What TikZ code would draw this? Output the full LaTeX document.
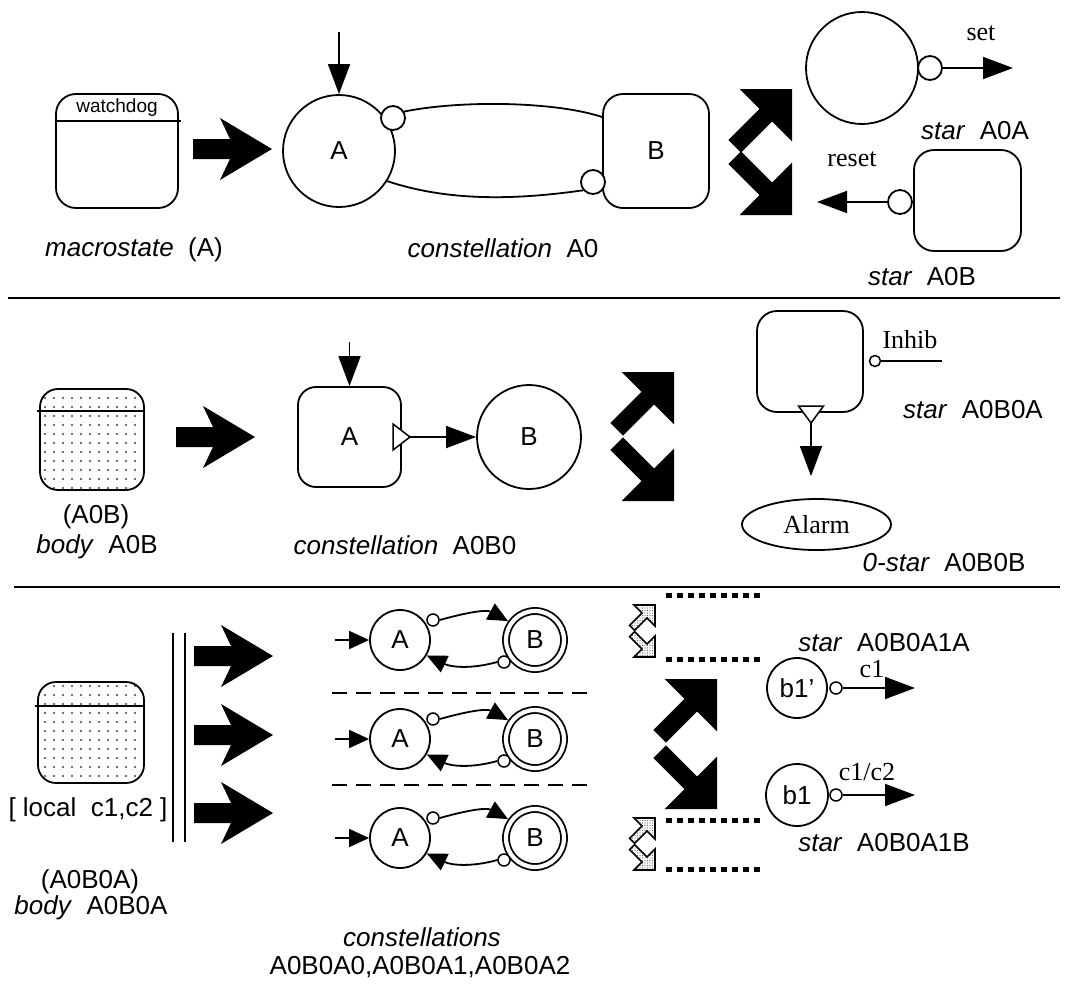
\documentclass[tikz,border=0pt]{standalone}
\usepackage{fontspec}
\setmainfont{Liberation Serif}
\setsansfont{Liberation Sans}
\usetikzlibrary{positioning, arrows.meta, shapes.geometric, patterns.meta}

\tikzset{
  fatarrow/.pic={\fill (0,0) -- (-52,-31) -- (-42,-10) -- (-79,-10) -- (-79,10) -- (-42,10) -- (-52,31) -- cycle;},
  fatturn/.pic={\fill (0,0) -- (-37,-37) -- (-37,-9) -- (-81,-9) -- (-81,9) -- (-37,9) -- (-37,37) -- cycle;},
  hatchturn/.pic={\path[hatch] (0,0) -- (-37,-37) -- (-37,-9) -- (-81,-9) -- (-81,9) -- (-37,9) -- (-37,37) -- cycle;}
}

\begin{document}
\begin{tikzpicture}[x=1pt, y=-1pt, line width=1.8pt,
    lbl/.style={font=\sffamily\fontsize{26}{30}\selectfont},
    rmlbl/.style={font=\rmfamily\fontsize{26}{30}\selectfont},
    state/.style={circle, draw, inner sep=0pt, lbl},
    box/.style={rectangle, rounded corners=20pt, draw, inner sep=0pt, lbl},
    body/.style={box, rounded corners=18pt, pattern={Dots[distance=9pt, radius=1.1pt]}, pattern color=black!75},
    port/.style={circle, draw, fill=white, inner sep=0pt, minimum size=24pt},
    sport/.style={port, minimum size=12pt, line width=1.5pt},
    line/.style={draw, -{Triangle[length=30pt, width=22pt]}},
    sline/.style={draw, -{Triangle[length=20pt, width=18pt]}},
    tri/.style={draw, fill=white, line width=1.5pt},
    sep/.style={draw, line width=2pt},
    rowsep/.style={draw, line width=1.8pt, dash pattern=on 15pt off 9pt},
    dots/.style={draw, line width=5pt, dash pattern=on 6pt off 5pt},
    hatch/.style={draw, line width=1.6pt, pattern={Dots[distance=2.5pt, radius=0.7pt]}, pattern color=black!60}
  ]
  \useasboundingbox (0,0) rectangle (1068,983);

  % macrostate (A)
  \node[box, minimum width=122pt, minimum height=114pt] (wd) at (117,151) {};
  \draw ([yshift=-28pt]wd.north west) -- ([xshift=2pt, yshift=-28pt]wd.north east);
  \node[font=\sffamily\fontsize{19}{22}\selectfont] (wdname) at (117,108) {watchdog};
  \node[lbl] (macro) at (134,250) {\textit{macrostate}\ \ (A)};
  \pic at (272,149) {fatarrow};

  % constellation A0
  \node[state, minimum size=112pt] (A0a) at (339,151) {A};
  \coordinate (A0in) at (339,32);
  \draw[line] (A0in) -- (A0a);
  \node[port] (A0ap) at (393,118) {};
  \node[box, minimum width=106pt, minimum height=114pt] (A0b) at (656,151) {B};
  \node[port] (A0bp) at (593,182) {};
  \draw (A0ap.30) .. controls +(60,-12) and +(-45,-15) .. ([yshift=34pt]A0b.west);
  \draw (A0a.-32) .. controls +(60,20) and +(-70,10) .. (A0bp.220);
  \node[lbl] (constA0) at (503,248) {\textit{constellation}\ \ A0};
  \pic[rotate=45] at (792,89) {fatturn};
  \pic[rotate=-45] at (792,215) {fatturn};

  % stars A0A and A0B
  \node[state, minimum size=112pt] (sA0A) at (862,68) {};
  \node[port] (sA0Ap) at (930,68) {};
  \coordinate (setout) at (1013,68);
  \draw[line] (sA0Ap) -- (setout);
  \node[rmlbl] (setlbl) at (981,33) {set};
  \node[lbl] (nA0A) at (975,131) {\textit{star}\ \ A0A};
  \node[box, minimum width=107pt, minimum height=101pt] (sA0B) at (967.5,200.5) {};
  \node[port] (sA0Bp) at (900,202) {};
  \coordinate (resetout) at (817,202);
  \draw[line] (sA0Bp) -- (resetout);
  \node[rmlbl] (resetlbl) at (852,159) {reset};
  \node[lbl] (nA0B) at (922,277) {\textit{star}\ \ A0B};

  \draw[sep] (8,298) -- (1060,298);

  % body A0B
  \node[body, minimum width=104pt, minimum height=101pt] (bA0B) at (92,439.5) {};
  \draw ([xshift=-2pt, yshift=-23pt]bA0B.north west) -- ([yshift=-23pt]bA0B.north east);
  \node[lbl] (pA0B) at (96,517) {(A0B)};
  \node[lbl] (nbA0B) at (97,547) {\textit{body}\ \ A0B};
  \pic at (255,437) {fatarrow};

  % constellation A0B0
  \node[box, rounded corners=18pt, minimum width=103pt, minimum height=100pt] (A1a) at (349.5,437) {A};
  \coordinate (A1in) at (349.5,342);
  \draw[line] (A1in) -- (A1a);
  \coordinate (A1tri) at (410,437);
  \draw[tri] (A1tri) -- ++(-17,-13) -- ++(0,26) -- cycle;
  \node[state, minimum size=104pt] (A1b) at (529,437) {B};
  \draw[line] (A1tri) -- (A1b);
  \node[lbl] (constA0B0) at (405,545) {\textit{constellation}\ \ A0B0};
  \pic[rotate=45] at (674,372) {fatturn};
  \pic[rotate=-45] at (674,501) {fatturn};

  % star A0B0A and 0-star A0B0B
  \node[box, minimum width=106pt, minimum height=101pt] (sA0B0A) at (810,361.5) {};
  \node[sport, minimum size=11pt] (inhibp) at (875,361) {};
  \coordinate (inhibin) at (942,361);
  \draw (inhibin) -- (inhibp);
  \node[rmlbl] (inhiblbl) at (910,340) {Inhib};
  \coordinate (sA0B0Atri) at (811,423);
  \draw[tri] (sA0B0Atri) -- ++(-12.5,-17) -- ++(25,0) -- cycle;
  \node[ellipse, draw, minimum width=149pt, minimum height=51pt, inner sep=0pt, rmlbl] (alarm) at (816.5,524.5) {Alarm};
  \draw[line, shorten >=22pt] (sA0B0Atri) -- (sA0B0Atri |- alarm.north);
  \node[lbl] (nA0B0A) at (973,410) {\textit{star}\ \ A0B0A};
  \node[lbl] (nA0B0B) at (944,563) {\textit{0-star}\ \ A0B0B};

  \draw[sep] (14,587) -- (1060,587);

  % body A0B0A
  \node[body, minimum width=106pt, minimum height=101pt] (bA0B0A) at (91,732.5) {};
  \draw ([xshift=-2pt, yshift=-25pt]bA0B0A.north west) -- ([yshift=-25pt]bA0B0A.north east);
  \node[lbl] (localc) at (88,810) {[ local\ \ c1,c2 ]};
  \node[lbl] (pA0B0A) at (90,882) {(A0B0A)};
  \node[lbl] (nbA0B0A) at (91,908) {\textit{body}\ \ A0B0A};
  \draw (173,633) -- (173,842);
  \draw (185,633) -- (185,842);
  \pic at (273,656) {fatarrow};
  \pic at (273,735) {fatarrow};
  \pic at (273,813) {fatarrow};

  % constellations A0B0A0, A0B0A1, A0B0A2
  \node[state, minimum size=60pt] (r0a) at (400,640) {A};
  \node[state, double, double distance=4.2pt, outer sep=4pt, minimum size=58pt] (r0b) at (535,640) {B};
  \coordinate (r0in) at (335,640);
  \draw[sline] (r0in) -- (r0a);
  \node[sport] (r0ap) at ([shift={(33,-20)}]r0a.center) {};
  \node[sport] (r0bp) at ([shift={(-31,22)}]r0b.center) {};
  \draw[sline] (r0ap.east) .. controls +(25,-7) and +(-22,-12) .. (r0b.145);
  \draw[sline] (r0bp.west) .. controls +(-25,7) and +(25,12) .. (r0a.-30);

  \draw[rowsep] (332,693) -- (588,693);

  \node[state, minimum size=60pt] (r1a) at (400,739) {A};
  \node[state, double, double distance=4.2pt, outer sep=4pt, minimum size=58pt] (r1b) at (535,739) {B};
  \coordinate (r1in) at (335,739);
  \draw[sline] (r1in) -- (r1a);
  \node[sport] (r1ap) at ([shift={(33,-20)}]r1a.center) {};
  \node[sport] (r1bp) at ([shift={(-31,22)}]r1b.center) {};
  \draw[sline] (r1ap.east) .. controls +(25,-7) and +(-22,-12) .. (r1b.145);
  \draw[sline] (r1bp.west) .. controls +(-25,7) and +(25,12) .. (r1a.-30);

  \draw[rowsep] (332,785) -- (588,785);

  \node[state, minimum size=60pt] (r2a) at (400,838) {A};
  \node[state, double, double distance=4.2pt, outer sep=4pt, minimum size=58pt] (r2b) at (535,838) {B};
  \coordinate (r2in) at (335,838);
  \draw[sline] (r2in) -- (r2a);
  \node[sport] (r2ap) at ([shift={(33,-20)}]r2a.center) {};
  \node[sport] (r2bp) at ([shift={(-31,22)}]r2b.center) {};
  \draw[sline] (r2ap.east) .. controls +(25,-7) and +(-22,-12) .. (r2b.145);
  \draw[sline] (r2bp.west) .. controls +(-25,7) and +(25,12) .. (r2a.-30);

  \node[lbl] (consts) at (422,937) {\textit{constellations}};
  \node[lbl] (constnames) at (420,967) {A0B0A0,A0B0A1,A0B0A2};

  % stars A0B0A1A and A0B0A1B
  \pic[rotate=45, scale=0.4] at (655,605) {hatchturn};
  \pic[rotate=-45, scale=0.4] at (655,657) {hatchturn};
  \pic[rotate=45, scale=0.4] at (655,818) {hatchturn};
  \pic[rotate=-45, scale=0.4] at (655,870) {hatchturn};
  \draw[dots] (666,595) -- (760,595);
  \draw[dots] (666,659) -- (760,659);
  \draw[dots] (666,820) -- (760,820);
  \draw[dots] (666,869) -- (760,869);
  \pic[rotate=45] at (717,679) {fatturn};
  \pic[rotate=-45] at (717,809) {fatturn};

  \node[lbl] (nA1A) at (884,643) {\textit{star}\ \ A0B0A1A};
  \node[state, minimum size=60pt] (b1p) at (797,688) {b1’};
  \node[sport] (b1pport) at (836,688) {};
  \coordinate (c1out) at (915,688);
  \draw[line] (b1pport) -- (c1out);
  \node[rmlbl] (c1lbl) at (872,669) {c1};

  \node[state, minimum size=62pt] (b1) at (797,795) {b1};
  \node[sport] (b1port) at (836,795) {};
  \coordinate (c12out) at (915,795);
  \draw[line] (b1port) -- (c12out);
  \node[rmlbl] (c12lbl) at (867,772) {c1/c2};
  \node[lbl] (nA1B) at (884,843) {\textit{star}\ \ A0B0A1B};

\end{tikzpicture}
\end{document}
